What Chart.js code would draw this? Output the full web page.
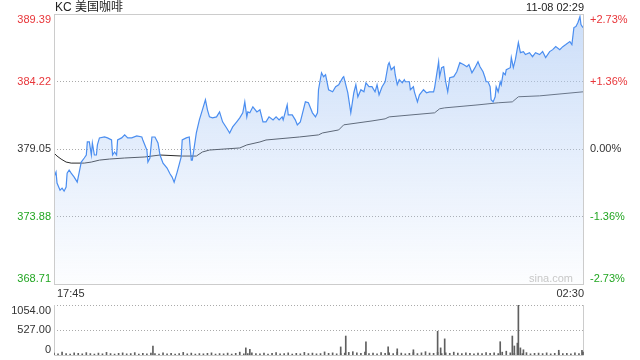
<!DOCTYPE html>
<html>
<head>
<meta charset="utf-8">
<script src="https://cdn.jsdelivr.net/npm/chart.js@4"></script>
<style>
  html, body { margin: 0; padding: 0; background: #fff; }
  #wrap { position: relative; width: 640px; height: 360px; }
  canvas { position: absolute; left: 0; top: 0; }
</style>
</head>
<body>
<div id="wrap">
  <canvas id="price" width="640" height="360"></canvas>
  <canvas id="volume" width="640" height="360"></canvas>
</div>
<script>
// 分时数据：分钟序号 (17:45 = 0) 与价格
const TITLE = 'KC 美国咖啡'
const LAST_TIME = '11-08 02:29'
const TIME_LABELS = ['17:45', '02:30']

const priceTicks = [389.39, 384.22, 379.05, 373.88, 368.71]
const pctTicks = ['+2.73%', '+1.36%', '0.00%', '-1.36%', '-2.73%']
const volTicks = [1054, 527, 0]
const volTickLabels = ['1054.00', '527.00', '0']

const priceMinutes = [
  0, 2, 3, 6, 8, 10, 12, 13, 15, 17,
  20, 23, 25, 27, 30, 32, 33, 35, 37, 38,
  40, 42, 43, 45, 50, 53, 57, 58, 60, 62,
  63, 67, 70, 73, 77, 82, 87, 88, 92, 93,
  95, 97, 100, 103, 105, 108, 112, 115, 117, 119,
  122, 126, 127, 131, 134, 136, 137, 141, 144, 147,
  150, 152, 154, 157, 161, 164, 167, 171, 174, 177,
  181, 184, 187, 189, 191, 192, 194, 197, 201, 204,
  207, 210, 213, 217, 220, 223, 226, 227, 231, 232,
  236, 239, 241, 244, 247, 249, 252, 256, 259, 261,
  262, 265, 267, 269, 272, 276, 279, 282, 286, 287,
  291, 294, 297, 299, 301, 304, 307, 309, 312, 315,
  318, 320, 322, 325, 328, 331, 332, 334, 337, 338,
  340, 342, 345, 347, 348, 352, 353, 356, 357, 360,
  362, 366, 369, 372, 376, 377, 381, 382, 384, 386,
  388, 390, 392, 396, 399, 402, 406, 409, 411, 414,
  417, 420, 422, 425, 427, 428, 430, 432, 433, 435,
  437, 438, 440, 442, 443, 445, 447, 448, 452, 453,
  455, 457, 460, 462, 465, 467, 471, 474, 477, 481,
  484, 487, 491, 494, 497, 501, 504, 507, 511, 513,
  515, 517, 519, 521, 522, 524
]
const prices = [
  376.90, 377.28, 376.44, 375.90, 376.05, 375.82, 376.13, 377.20, 377.44, 377.20,
  376.90, 376.51, 377.28, 378.05, 378.36, 378.59, 379.59, 379.59, 378.59, 379.51,
  378.59, 378.59, 379.36, 379.90, 379.97, 379.90, 379.74, 378.59, 378.82, 378.59,
  379.74, 379.90, 380.13, 379.90, 379.90, 380.05, 379.97, 379.74, 378.97, 378.05,
  378.36, 379.97, 379.97, 379.51, 378.59, 377.97, 377.59, 377.13, 376.90, 376.51,
  377.28, 378.44, 379.74, 379.90, 379.97, 378.20, 378.20, 380.28, 381.28, 382.05,
  382.82, 382.05, 381.51, 381.43, 381.51, 381.89, 381.13, 380.66, 380.28, 380.74,
  381.13, 381.43, 381.82, 382.66, 381.51, 381.89, 381.82, 382.28, 381.89, 382.05,
  381.13, 381.13, 381.51, 381.28, 381.51, 381.28, 381.51, 381.28, 382.43, 381.66,
  381.66, 381.28, 380.90, 381.13, 382.05, 382.66, 382.59, 381.82, 381.51, 381.82,
  383.59, 384.89, 384.59, 384.74, 383.59, 383.43, 383.82, 383.97, 384.51, 384.59,
  383.36, 381.82, 383.36, 383.97, 383.05, 383.59, 383.43, 384.12, 383.82, 383.82,
  383.43, 383.97, 383.20, 383.82, 384.20, 385.51, 385.66, 385.12, 385.35, 384.74,
  383.97, 384.36, 384.12, 384.36, 384.20, 384.20, 383.59, 383.82, 383.43, 382.66,
  383.20, 383.59, 383.36, 383.43, 383.43, 383.74, 385.74, 384.59, 385.28, 385.35,
  384.20, 383.43, 384.51, 384.59, 384.97, 385.66, 385.51, 385.35, 385.51, 384.89,
  385.28, 385.74, 385.35, 384.97, 384.51, 384.20, 384.20, 383.82, 382.82, 382.66,
  383.05, 383.82, 383.43, 384.20, 383.97, 384.89, 384.74, 385.12, 385.28, 386.05,
  385.28, 385.89, 387.20, 386.43, 386.51, 386.28, 386.43, 386.12, 386.43, 386.28,
  386.51, 386.05, 386.51, 386.66, 386.89, 386.66, 386.89, 387.05, 387.28, 387.05,
  388.35, 388.43, 388.74, 389.20, 388.58, 388.35
]

// 均价线
const avgMinutes = [0, 3, 7, 12, 17, 30, 37, 45, 55, 70, 90, 105, 127, 141, 147, 154, 184, 191, 204, 210,
  243, 262, 266, 282, 287, 315, 328, 332, 377, 382, 387, 420, 440, 454, 460, 481, 524]
const avgPrices = [378.74, 378.51, 378.28, 378.05, 377.97, 377.97, 378.05, 378.20, 378.28, 378.36,
  378.44, 378.59, 378.51, 378.51, 378.82, 378.97, 379.13, 379.36, 379.59, 379.74,
  379.97, 380.13, 380.28, 380.51, 380.90, 381.20, 381.36, 381.51, 381.82, 382.13,
  382.20, 382.43, 382.59, 382.66, 383.05, 383.12, 383.43]

// 成交量：每 4 分钟一根的底量 + 放量的分钟
const volBase = [
  40, 25, 60, 30, 20, 45, 35, 25, 50, 30, 20, 40, 25, 55, 30, 20, 35, 45, 25, 30, 50, 20, 35, 25, 40,
  30, 20, 45, 25, 35, 20, 30, 55, 25, 40, 20, 30, 25, 35, 45, 20, 30, 25, 40, 20, 35, 60, 25, 30, 45,
  30, 25, 40, 20, 35, 50, 25, 30, 45, 20, 35, 25, 55, 30, 40, 25, 30, 65, 35, 45, 25, 30, 40, 55, 70,
  45, 35, 60, 30, 40, 25, 50, 35, 45, 30, 60, 40, 25, 35, 50, 30, 45, 70, 40, 35, 55, 30, 45, 35, 60,
  40, 30, 45, 35, 25, 40, 30, 50, 35, 45, 30, 60, 80, 45, 35, 40, 30, 50, 25, 35, 40, 30, 45, 25, 35,
  40, 30, 35, 25, 45, 30, 60
]
const volSpikeMinutes = [98, 190, 194, 284, 289, 309, 331, 340, 356, 380, 383, 387, 442, 454, 456, 459, 460, 462, 465, 500, 523]
const volSpikes = [190, 150, 120, 170, 400, 280, 170, 130, 110, 500, 150, 340, 280, 400, 190, 250, 1054, 150, 110, 100, 100]

const FONT = 'Arial, "Liberation Sans", "Noto Sans CJK SC", sans-serif'
const COLORS = {
  up: '#e8363a',
  down: '#22a622',
  text: '#333333',
  line: '#4b8ef0',
  avg: '#2b2b2b',
  bar: '#5f5f5f',
  frame: '#cccccc',
  grid: '#aaaaaa'
}

function tickColor(i) {
  if (i < 2) return COLORS.up
  if (i > 2) return COLORS.down
  return COLORS.text
}

function baselineFor(i, n) {
  if (i === 0) return 'top'
  if (i === n - 1) return 'bottom'
  return 'middle'
}

const priceFrame = {
  id: 'priceFrame',
  beforeDatasetsDraw(chart) {
    const { ctx, chartArea: a, scales } = chart
    ctx.save()
    ctx.strokeStyle = COLORS.grid
    ctx.lineWidth = 1
    ctx.setLineDash([1, 2])
    priceTicks.slice(1, -1).forEach(v => {
      const y = Math.round(scales.y.getPixelForValue(v)) + 0.5
      ctx.beginPath()
      ctx.moveTo(a.left, y)
      ctx.lineTo(a.right, y)
      ctx.stroke()
    })
    ctx.restore()
  },
  afterDraw(chart) {
    const { ctx, chartArea: a, scales } = chart
    ctx.save()
    ctx.strokeStyle = COLORS.frame
    ctx.lineWidth = 1
    ctx.strokeRect(a.left + 0.5, a.top + 0.5, a.right - a.left - 1, a.bottom - a.top)

    ctx.font = '11px ' + FONT
    priceTicks.forEach((v, i) => {
      const y = scales.y.getPixelForValue(v)
      ctx.textBaseline = baselineFor(i, priceTicks.length)
      ctx.fillStyle = tickColor(i)
      ctx.textAlign = 'right'
      ctx.fillText(v.toFixed(2), a.left - 3, y)
      ctx.textAlign = 'left'
      ctx.fillText(pctTicks[i], a.right + 6, y)
    })

    ctx.fillStyle = '#222'
    ctx.textBaseline = 'middle'
    ctx.font = '12px ' + FONT
    ctx.textAlign = 'left'
    ctx.fillText(TITLE, a.left + 1, 8)
    ctx.font = '11px ' + FONT
    ctx.textAlign = 'right'
    ctx.fillText(LAST_TIME, a.right, 8)

    ctx.fillStyle = COLORS.text
    ctx.textAlign = 'left'
    ctx.fillText(TIME_LABELS[0], a.left + 3, a.bottom + 10)
    ctx.textAlign = 'right'
    ctx.fillText(TIME_LABELS[1], a.right, a.bottom + 10)

    ctx.fillStyle = '#c8c8c8'
    ctx.fillText('sina.com', a.right - 11, a.bottom - 5)
    ctx.restore()
  }
}

const volumeFrame = {
  id: 'volumeFrame',
  beforeDatasetsDraw(chart) {
    const { ctx, chartArea: a, scales } = chart
    ctx.save()
    ctx.strokeStyle = COLORS.grid
    ctx.lineWidth = 1
    ctx.setLineDash([1, 2])
    volTicks.slice(0, -1).forEach(v => {
      const y = Math.round(scales.y.getPixelForValue(v)) + 0.5
      ctx.beginPath()
      ctx.moveTo(a.left, y)
      ctx.lineTo(a.right, y)
      ctx.stroke()
    })
    ctx.setLineDash([])
    ctx.strokeStyle = COLORS.frame
    ctx.beginPath()
    ctx.moveTo(a.left + 0.5, a.top)
    ctx.lineTo(a.left + 0.5, a.bottom + 0.5)
    ctx.lineTo(a.right - 0.5, a.bottom + 0.5)
    ctx.lineTo(a.right - 0.5, a.top)
    ctx.stroke()
    ctx.restore()
  },
  afterDraw(chart) {
    const { ctx, chartArea: a, scales } = chart
    ctx.save()
    ctx.font = '11px ' + FONT
    ctx.fillStyle = COLORS.text
    ctx.textAlign = 'right'
    volTicks.forEach((v, i) => {
      ctx.textBaseline = baselineFor(i, volTicks.length)
      ctx.fillText(volTickLabels[i], a.left - 3, scales.y.getPixelForValue(v))
    })
    ctx.restore()
  }
}

const BASE_OPTIONS = {
  responsive: false,
  animation: false,
  devicePixelRatio: 1,
  plugins: { legend: { display: false }, tooltip: { enabled: false } }
}

new Chart(document.getElementById('price'), {
  type: 'line',
  data: {
    datasets: [
      {
        label: '价格',
        data: priceMinutes.map((m, i) => ({ x: m, y: prices[i] })),
        borderColor: COLORS.line,
        borderWidth: 1.2,
        pointRadius: 0,
        tension: 0,
        fill: 'start',
        backgroundColor: ctx => {
          const a = ctx.chart.chartArea
          if (!a) return 'rgba(0,0,0,0)'
          const g = ctx.chart.ctx.createLinearGradient(0, a.top, 0, a.bottom)
          g.addColorStop(0, 'rgba(176, 204, 245, 0.65)')
          g.addColorStop(1, 'rgba(176, 204, 245, 0.03)')
          return g
        }
      },
      {
        label: '均价',
        data: avgMinutes.map((m, i) => ({ x: m, y: avgPrices[i] })),
        borderColor: COLORS.avg,
        borderWidth: 1,
        pointRadius: 0,
        tension: 0,
        fill: false
      }
    ]
  },
  options: {
    ...BASE_OPTIONS,
    layout: { padding: { left: 54, right: 56, top: 14, bottom: 76 } },
    scales: {
      x: { type: 'linear', min: 0, max: 525, display: false },
      y: { min: priceTicks[priceTicks.length - 1], max: priceTicks[0], display: false }
    }
  },
  plugins: [priceFrame]
})

const volData = volBase.map((v, i) => ({ x: i * 4, y: v }))
  .concat(volSpikeMinutes.map((m, i) => ({ x: m, y: volSpikes[i] })))

new Chart(document.getElementById('volume'), {
  type: 'bar',
  data: {
    datasets: [{
      label: '成交量',
      data: volData,
      backgroundColor: COLORS.bar,
      borderWidth: 0,
      barThickness: 1
    }]
  },
  options: {
    ...BASE_OPTIONS,
    layout: { padding: { left: 54, right: 56, top: 305, bottom: 5 } },
    scales: {
      x: { type: 'linear', min: 0, max: 525, display: false, offset: false },
      y: { min: 0, max: 1054, display: false }
    }
  },
  plugins: [volumeFrame]
})
</script>
</body>
</html>
